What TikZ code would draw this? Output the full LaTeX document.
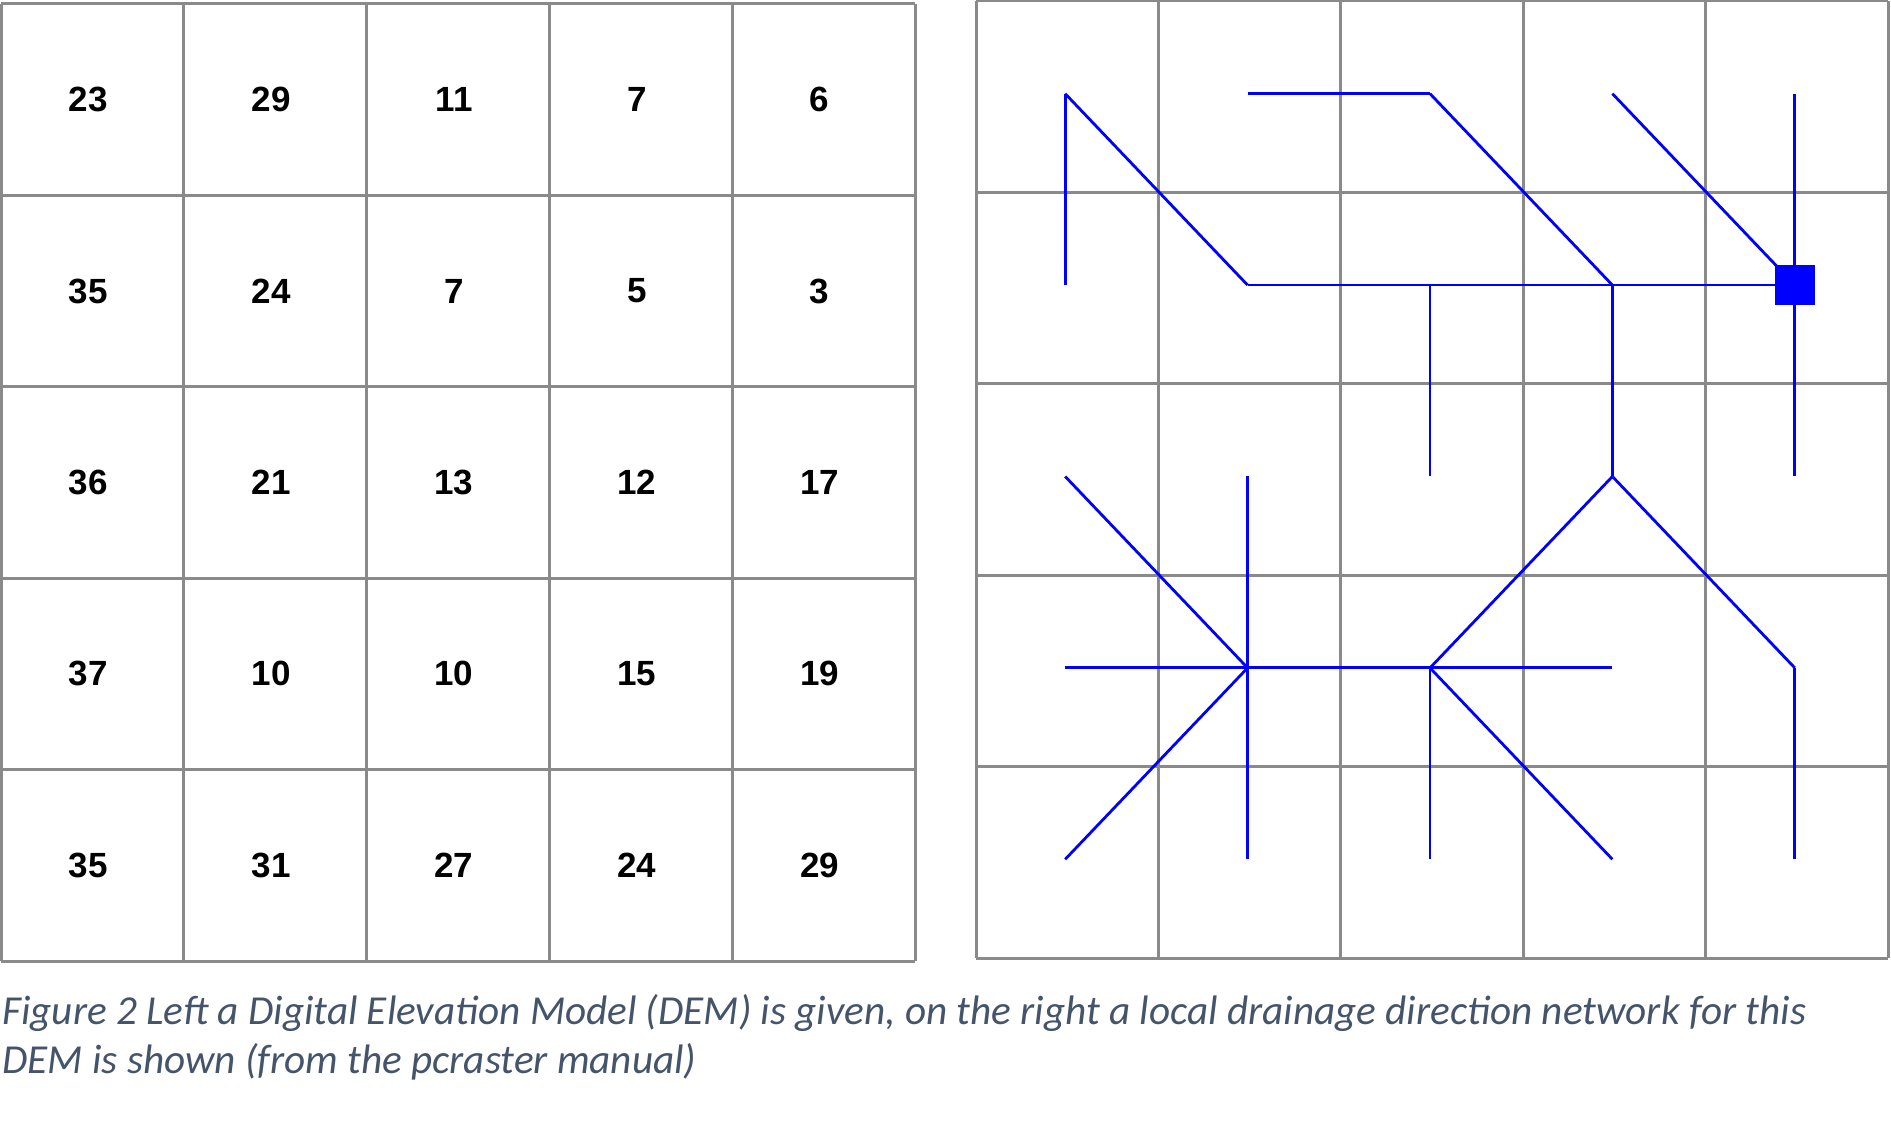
\documentclass[tikz,border=0pt]{standalone}
\usepackage{fontspec}
\setmainfont{Carlito}
\newfontfamily\numfont{Liberation Sans}
\usetikzlibrary{calc}
\definecolor{gridgray}{HTML}{8A8A8A}
\definecolor{capcol}{HTML}{44546A}
\definecolor{ldd}{HTML}{0000FF}
\begin{document}
\begin{tikzpicture}[x=0.5pt,y=-0.5pt,
  gridline/.style={draw=gridgray,line width=1.5pt},
  numlabel/.style={font=\numfont\bfseries\fontsize{17.5}{20}\selectfont,inner sep=0pt,anchor=center},
  flow/.style={draw=ldd,line width=1.4pt,line cap=butt,line join=miter},
  pit/.style={fill=ldd,minimum size=20pt,inner sep=0pt,draw=none},
  captext/.style={font=\itshape\fontsize{20.6}{24}\selectfont,text=capcol,inner sep=0pt,anchor=base west}]
\useasboundingbox (0,0) rectangle (1891,1133);
% ---- left grid (DEM)
\foreach \i in {0,...,5}{
  \draw[gridline] ({1+182.8*\i},4) -- ({1+182.8*\i},961);
  \draw[gridline] (1,{4+191.4*\i}) -- (915,{4+191.4*\i});
}
\foreach \row/\vals in {0/{23,29,11,7,6},1/{35,24,7,5,3},2/{36,21,13,12,17},3/{37,10,10,15,19},4/{35,31,27,24,29}}{
  \foreach \v [count=\c from 0] in \vals{
    \node[numlabel] (n-\row-\c) at ({1+182.8*(\c+0.5)-4},{4+191.4*(\row+0.5)}) {\v};
  }
}
% ---- right grid (LDD)
\foreach \i in {0,...,5}{
  \draw[gridline] ({976+182.4*\i},1) -- ({976+182.4*\i},958);
  \draw[gridline] (976,{1+191.4*\i}) -- (1888,{1+191.4*\i});
}
\foreach \r in {0,...,4}{
  \foreach \c in {0,...,4}{
    \coordinate (c-\r-\c) at ({976+182.4*(\c+0.5)-2},{1+191.4*(\r+0.5)-3});
  }
}
% flow segments
\foreach \a/\b in {1-0/0-0, 0-0/1-1, 0-1/0-2, 0-2/1-3, 0-3/1-4, 0-4/1-4,
  1-1/1-2, 1-2/1-3, 1-3/1-4, 2-2/1-2, 2-3/1-3, 2-4/1-4,
  2-0/3-1, 2-1/3-1, 3-0/3-1, 4-0/3-1, 4-1/3-1, 3-1/3-2, 3-3/3-2,
  2-3/3-2, 4-2/3-2, 4-3/3-2, 2-3/3-4, 3-4/4-4}{
  \draw[flow] (c-\a) -- (c-\b);
}
\node[pit] (pit) at (c-1-4) {};
% ---- caption
\node[captext] (cap1) at (2,1024) {Figure 2 Left a Digital Elevation Model (DEM) is given, on the right a local drainage direction network for this};
\node[captext] (cap2) at (2,1073) {DEM is shown (from the pcraster manual)};
\end{tikzpicture}
\end{document}
